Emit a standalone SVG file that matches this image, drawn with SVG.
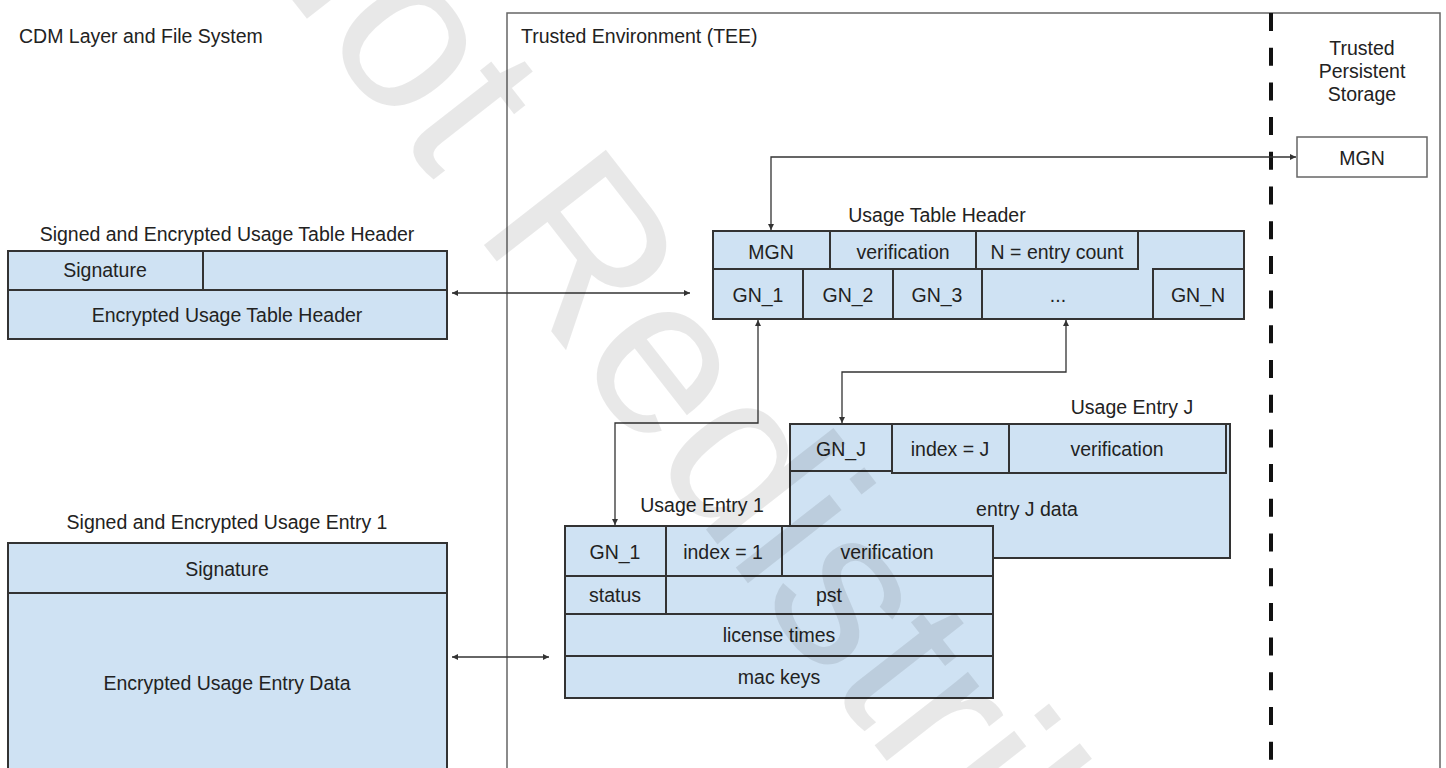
<svg xmlns="http://www.w3.org/2000/svg" width="1446" height="768" viewBox="0 0 1446 768">
<style>
text{font-family:"Liberation Sans",Arial,sans-serif;font-size:19.5px;fill:#222}
.c{text-anchor:middle}
.box{fill:#cfe2f3;stroke:#333;stroke-width:2}
.ln{stroke:#333;stroke-width:2;fill:none}
.frame{fill:none;stroke:#666;stroke-width:1.5}
.conn{fill:none;stroke:#333;stroke-width:1.3;marker-start:url(#ah);marker-end:url(#ah)}
.wm{font-size:225px;fill:#000;fill-opacity:0.09}
</style>
<defs>
<marker id="ah" viewBox="0 0 10 10" refX="10" refY="5" markerWidth="7" markerHeight="6" markerUnits="userSpaceOnUse" orient="auto-start-reverse">
<path d="M0,0 L10,5 L0,10 z" fill="#333"/>
</marker>
</defs>
<rect width="1446" height="768" fill="#fff"/>

<g id="tee">
<rect class="frame" x="507" y="13" width="933" height="780"/>
<text x="521" y="43">Trusted Environment (TEE)</text>
<line x1="1271" y1="13" x2="1271" y2="768" stroke="#111" stroke-width="4" stroke-dasharray="18 16.7"/>
</g>

<g id="cdm-label"><text x="19" y="43">CDM Layer and File System</text></g>

<g id="storage">
<text class="c" x="1362" y="55">Trusted</text>
<text class="c" x="1362" y="78">Persistent</text>
<text class="c" x="1362" y="101">Storage</text>
<rect x="1297" y="137" width="130" height="40" fill="#fff" stroke="#666" stroke-width="1.5"/>
<text class="c" x="1362" y="165">MGN</text>
</g>

<g id="signed-header">
<text class="c" x="227" y="241">Signed and Encrypted Usage Table Header</text>
<rect class="box" x="8" y="251" width="439" height="88"/>
<line class="ln" x1="8" y1="290" x2="447" y2="290"/>
<line class="ln" x1="203" y1="251" x2="203" y2="290"/>
<text class="c" x="105" y="277">Signature</text>
<text class="c" x="227" y="322">Encrypted Usage Table Header</text>
</g>

<g id="signed-entry">
<text class="c" x="227" y="529">Signed and Encrypted Usage Entry 1</text>
<rect class="box" x="8" y="543" width="439" height="250"/>
<line class="ln" x1="8" y1="593" x2="447" y2="593"/>
<text class="c" x="227" y="576">Signature</text>
<text class="c" x="227" y="690">Encrypted Usage Entry Data</text>
</g>

<g id="table-header">
<text class="c" x="937" y="222">Usage Table Header</text>
<rect class="box" x="713" y="231" width="531" height="88"/>
<rect class="box" x="713" y="231" width="117" height="38"/>
<rect class="box" x="830" y="231" width="146" height="38"/>
<rect class="box" x="976" y="231" width="162" height="38"/>
<rect class="box" x="713" y="269" width="90" height="50"/>
<rect class="box" x="803" y="269" width="90" height="50"/>
<rect class="box" x="893" y="269" width="89" height="50"/>
<rect class="box" x="1153" y="269" width="91" height="50"/>
<text class="c" x="771" y="259">MGN</text>
<text class="c" x="903" y="259">verification</text>
<text class="c" x="1057" y="259">N = entry count</text>
<text class="c" x="758" y="302">GN_1</text>
<text class="c" x="848" y="302">GN_2</text>
<text class="c" x="937" y="302">GN_3</text>
<text class="c" x="1058" y="302">...</text>
<text class="c" x="1198" y="302">GN_N</text>
</g>

<g id="entry-j">
<text class="c" x="1132" y="414">Usage Entry J</text>
<rect class="box" x="790" y="424" width="440" height="134"/>
<rect class="box" x="790" y="424" width="102" height="47"/>
<rect class="box" x="892" y="424" width="117" height="49"/>
<rect class="box" x="1009" y="424" width="217" height="49"/>
<text class="c" x="841" y="456">GN_J</text>
<text class="c" x="950" y="456">index = J</text>
<text class="c" x="1117" y="456">verification</text>
<text class="c" x="1027" y="516">entry J data</text>
</g>

<g id="entry-1">
<text class="c" x="702" y="512">Usage Entry 1</text>
<rect class="box" x="565" y="526" width="428" height="172"/>
<line class="ln" x1="565" y1="576" x2="993" y2="576"/>
<line class="ln" x1="565" y1="614" x2="993" y2="614"/>
<line class="ln" x1="565" y1="656" x2="993" y2="656"/>
<line class="ln" x1="666" y1="526" x2="666" y2="614"/>
<line class="ln" x1="782" y1="526" x2="782" y2="576"/>
<text class="c" x="615" y="559">GN_1</text>
<text class="c" x="723" y="559">index = 1</text>
<text class="c" x="887" y="559">verification</text>
<text class="c" x="615" y="602">status</text>
<text class="c" x="829" y="602">pst</text>
<text class="c" x="779" y="642">license times</text>
<text class="c" x="779" y="684">mac keys</text>
</g>

<g id="connectors">
<path class="conn" d="M771,230 V157 H1296"/>
<path class="conn" d="M452,293 H690"/>
<path class="conn" d="M758,320 V423 H615 V525"/>
<path class="conn" d="M1066,320 V372 H842 V423"/>
<path class="conn" d="M452,657 H549"/>
</g>

<text class="wm" transform="translate(472,230) rotate(52)" x="-412" y="0">Not Redistribution</text>
</svg>
